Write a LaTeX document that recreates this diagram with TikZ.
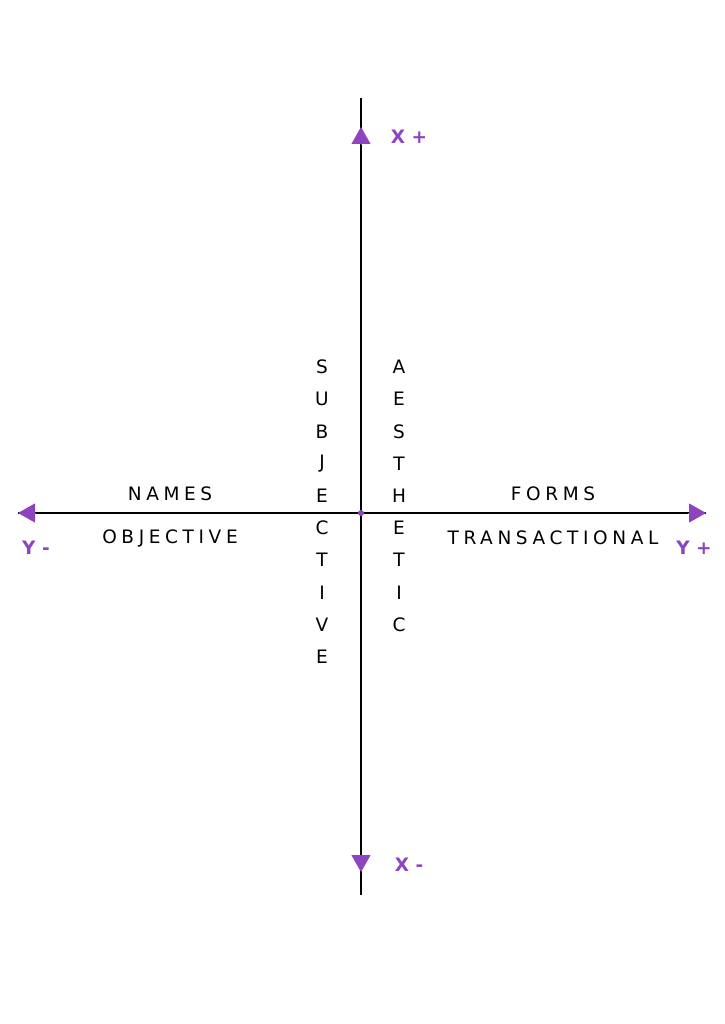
\documentclass[tikz,border=0pt]{standalone}
\usepackage{fontspec}
\setmainfont{DejaVu Sans}
\newfontfamily\spacedfont[LetterSpace=25]{DejaVu Sans}
\usetikzlibrary{arrows.meta}
\definecolor{axisPurple}{RGB}{142,68,190}

\begin{document}
\begin{tikzpicture}[
    x=1pt, y=-1pt,
    axisLineStyle/.style={black, line width=1.8pt},
    axisTipStyle/.style={-{Triangle[width=19pt,length=17pt]}, axisPurple, line width=1pt},
    axisLabelStyle/.style={axisPurple, font=\fontsize{18.5}{20}\selectfont\bfseries, inner sep=0pt},
    wordStyle/.style={font=\fontsize{18.5}{20}\spacedfont, inner sep=0pt},
    letterStyle/.style={font=\fontsize{18.5}{20}\selectfont, inner sep=0pt},
    >=stealth
]
    \useasboundingbox (0,0) rectangle (724,1024);

    % --- axes ---
    \coordinate (vTop) at (361,98);
    \coordinate (vBot) at (361,895);
    \coordinate (hLeft) at (18,513);
    \coordinate (hRight) at (706,513);
    \coordinate (origin) at (361,513);

    \draw[axisLineStyle] (vTop) -- (vBot);
    \draw[axisLineStyle] (hLeft) -- (hRight);

    % arrowheads
    \coordinate (xpBase) at (361,144);
    \coordinate (xpTip) at (361,127);
    \coordinate (xmBase) at (361,855);
    \coordinate (xmTip) at (361,872);
    \coordinate (ymBase) at (36,513);
    \coordinate (ypBase) at (688,513);
    \draw[axisTipStyle] (xpBase) -- (xpTip);
    \draw[axisTipStyle] (xmBase) -- (xmTip);
    \draw[axisTipStyle] (ymBase) -- (hLeft);
    \draw[axisTipStyle] (ypBase) -- (hRight);

    \fill[axisPurple] (origin) circle (3pt);

    % axis labels
    \node[axisLabelStyle] (xPlus) at (409,137) {X +};
    \node[axisLabelStyle] (xMinus) at (409,865) {X -};
    \node[axisLabelStyle] (yMinus) at (36,548) {Y -};
    \node[axisLabelStyle] (yPlus) at (694,548) {Y +};

    % horizontal words
    \node[wordStyle] (names) at (170,494) {NAMES};
    \node[wordStyle] (objective) at (170,538) {OBJECTIVE};
    \node[wordStyle] (forms) at (553,494) {FORMS};
    \node[wordStyle] (transactional) at (553,538) {TRANSACTIONAL};

    % vertical words
    \foreach \ch [count=\i] in {S,U,B,J,E,C,T,I,V,E}
        \node[letterStyle] (subj\i) at ({322},{367+32.2*(\i-1)}) {\ch};
    \foreach \ch [count=\i] in {A,E,S,T,H,E,T,I,C}
        \node[letterStyle] (aest\i) at ({399},{367+32.2*(\i-1)}) {\ch};
\end{tikzpicture}
\end{document}
